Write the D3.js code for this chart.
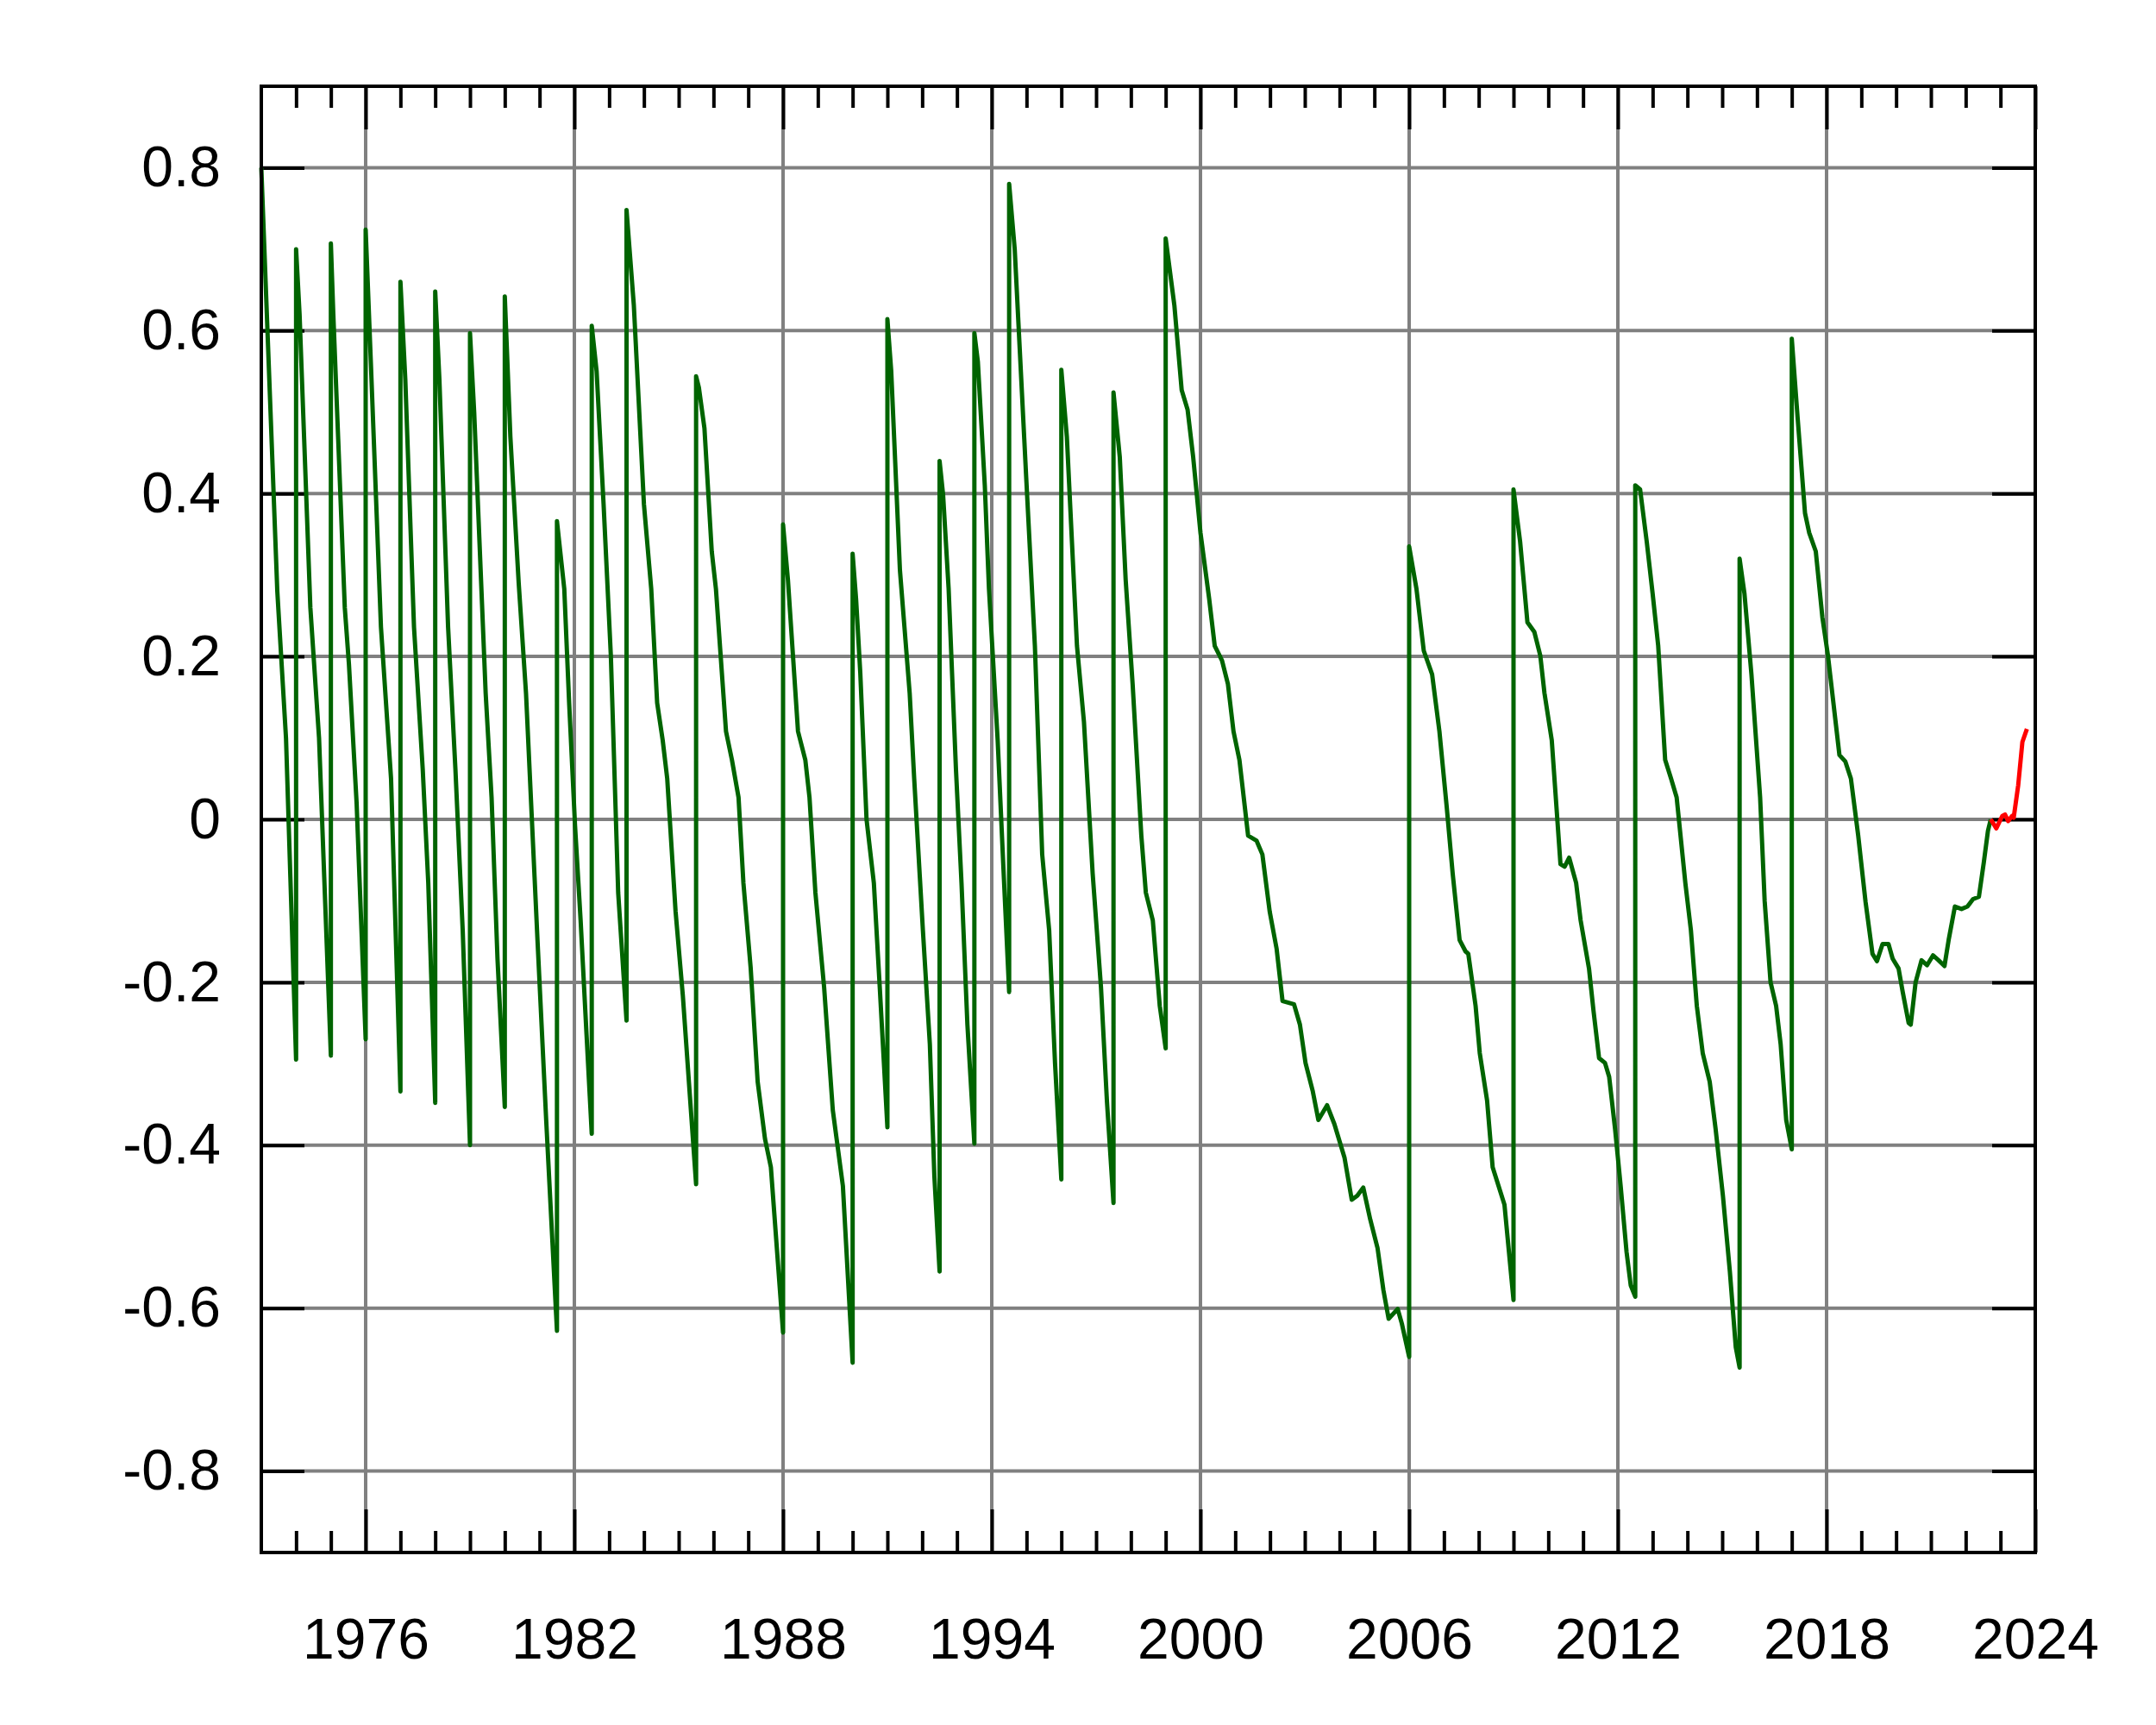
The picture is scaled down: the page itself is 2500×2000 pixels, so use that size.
<!DOCTYPE html>
<html><head><meta charset="utf-8">
<script src="https://cdn.jsdelivr.net/npm/d3@7"></script>
<style>body{margin:0;background:#fff}</style>
</head><body>
<svg id="chart" width="2500" height="2000"></svg>
<script>
// ---------- data ----------
const xMajorTicks = [1976, 1982, 1988, 1994, 2000, 2006, 2012, 2018, 2024];
const xTickLabels = ["1976", "1982", "1988", "1994", "2000", "2006", "2012", "2018", "2024"];
const yTicks = [-0.8, -0.6, -0.4, -0.2, 0, 0.2, 0.4, 0.6, 0.8];
const yTickLabels = ["-0.8", "-0.6", "-0.4", "-0.2", "0", "0.2", "0.4", "0.6", "0.8"];

// UT1-UTC (s), observed; duplicated years mark leap-second jumps
const observed = [
  [1973.00,0.80],[1973.46,0.28],[1973.71,0.10],[1974.00,-0.295],
  [1974.00,0.70],[1974.10,0.62],[1974.41,0.26],[1974.66,0.10],[1975.00,-0.29],
  [1975.00,0.707],[1975.07,0.62],[1975.40,0.26],[1975.52,0.19],[1975.74,0.02],[1976.00,-0.27],
  [1976.00,0.724],[1976.15,0.56],[1976.44,0.236],[1976.73,0.05],[1977.00,-0.334],
  [1977.00,0.66],[1977.14,0.54],[1977.39,0.236],[1977.64,0.062],[1977.80,-0.078],[1978.00,-0.348],
  [1978.00,0.648],[1978.12,0.54],[1978.37,0.236],[1978.58,0.062],[1978.79,-0.136],[1979.00,-0.40],
  [1979.00,0.597],[1979.12,0.50],[1979.45,0.155],[1979.62,0.027],[1979.79,-0.171],[1980.00,-0.353],
  [1980.00,0.642],[1980.16,0.47],[1980.40,0.29],[1980.61,0.155],[1980.94,-0.148],[1981.19,-0.369],[1981.50,-0.628],
  [1981.50,0.366],[1981.71,0.283],[1981.85,0.143],[1982.02,-0.008],[1982.18,-0.124],[1982.35,-0.264],[1982.50,-0.386],
  [1982.50,0.606],[1982.64,0.55],[1982.84,0.387],[1983.05,0.20],[1983.26,-0.09],[1983.50,-0.247],
  [1983.50,0.748],[1983.71,0.631],[1984.00,0.387],[1984.21,0.283],[1984.38,0.143],[1984.54,0.097],[1984.67,0.05],
  [1984.91,-0.113],[1985.12,-0.217],[1985.50,-0.448],
  [1985.50,0.544],[1985.58,0.53],[1985.74,0.48],[1985.95,0.329],[1986.07,0.283],[1986.36,0.108],[1986.53,0.073],
  [1986.72,0.027],[1986.86,-0.078],[1987.07,-0.183],[1987.27,-0.322],[1987.48,-0.392],[1987.65,-0.427],[1988.00,-0.63],
  [1988.00,0.362],[1988.14,0.294],[1988.43,0.108],[1988.64,0.073],[1988.76,0.027],[1988.93,-0.09],[1989.18,-0.206],
  [1989.43,-0.357],[1989.72,-0.45],[1990.00,-0.667],
  [1990.00,0.326],[1990.10,0.27],[1990.22,0.18],[1990.40,0.00],[1990.61,-0.078],[1990.78,-0.206],[1991.00,-0.378],
  [1991.00,0.614],[1991.11,0.55],[1991.36,0.306],[1991.49,0.236],[1991.64,0.155],[1991.77,0.05],[1992.02,-0.136],
  [1992.22,-0.276],[1992.35,-0.438],[1992.50,-0.555],
  [1992.50,0.44],[1992.60,0.399],[1992.76,0.283],[1992.97,0.062],[1993.13,-0.078],[1993.30,-0.252],[1993.50,-0.398],
  [1993.50,0.597],[1993.60,0.562],[1993.80,0.41],[1993.92,0.283],[1994.17,0.097],[1994.33,-0.055],[1994.50,-0.212],
  [1994.50,0.78],[1994.66,0.70],[1994.99,0.42],[1995.24,0.213],[1995.45,-0.043],[1995.65,-0.136],[1995.82,-0.30],[1996.00,-0.442],
  [1996.00,0.552],[1996.16,0.469],[1996.45,0.213],[1996.65,0.12],[1996.90,-0.066],[1997.14,-0.206],[1997.31,-0.345],[1997.50,-0.471],
  [1997.50,0.524],[1997.68,0.445],[1997.85,0.294],[1998.05,0.166],[1998.30,-0.02],[1998.43,-0.09],[1998.63,-0.124],
  [1998.83,-0.229],[1999.00,-0.281],
  [1999.00,0.713],[1999.25,0.631],[1999.46,0.527],[1999.63,0.503],[1999.79,0.445],[2000.00,0.352],[2000.25,0.271],
  [2000.41,0.213],[2000.62,0.195],[2000.79,0.166],[2000.95,0.108],[2001.12,0.073],[2001.37,-0.02],[2001.61,-0.026],
  [2001.78,-0.043],[2001.99,-0.113],[2002.19,-0.159],[2002.36,-0.223],[2002.69,-0.227],[2002.86,-0.252],[2003.02,-0.299],
  [2003.23,-0.334],[2003.39,-0.369],[2003.64,-0.351],[2003.85,-0.374],[2004.14,-0.415],[2004.35,-0.467],[2004.51,-0.462],
  [2004.68,-0.452],[2004.88,-0.491],[2005.09,-0.526],[2005.26,-0.578],[2005.41,-0.613],[2005.67,-0.601],[2005.79,-0.619],
  [2006.00,-0.66],
  [2006.00,0.335],[2006.21,0.283],[2006.42,0.207],[2006.66,0.178],[2006.87,0.108],[2007.08,0.015],[2007.25,-0.066],
  [2007.45,-0.148],[2007.62,-0.162],[2007.70,-0.165],[2007.91,-0.229],[2008.03,-0.287],[2008.24,-0.345],[2008.40,-0.427],
  [2008.57,-0.45],[2008.74,-0.473],[2009.00,-0.59],
  [2009.00,0.405],[2009.19,0.341],[2009.40,0.242],[2009.60,0.23],[2009.77,0.201],[2009.89,0.155],[2010.10,0.097],
  [2010.35,-0.055],[2010.47,-0.058],[2010.60,-0.047],[2010.80,-0.078],[2010.93,-0.124],[2011.17,-0.183],[2011.30,-0.235],
  [2011.46,-0.293],[2011.63,-0.299],[2011.75,-0.316],[2011.92,-0.38],[2012.08,-0.45],[2012.25,-0.531],[2012.37,-0.572],
  [2012.50,-0.586],
  [2012.50,0.41],[2012.64,0.405],[2012.83,0.341],[2013.00,0.277],[2013.16,0.213],[2013.36,0.073],[2013.53,0.05],
  [2013.69,0.027],[2013.94,-0.078],[2014.10,-0.136],[2014.27,-0.229],[2014.44,-0.287],[2014.64,-0.322],[2014.81,-0.38],
  [2015.02,-0.462],[2015.22,-0.555],[2015.39,-0.648],[2015.50,-0.673],
  [2015.50,0.32],[2015.64,0.277],[2015.84,0.178],[2016.09,0.027],[2016.22,-0.10],[2016.39,-0.20],[2016.55,-0.229],
  [2016.68,-0.276],[2016.84,-0.369],[2017.00,-0.405],
  [2017.00,0.59],[2017.17,0.492],[2017.38,0.376],[2017.50,0.352],[2017.69,0.329],[2017.88,0.248],[2018.04,0.201],
  [2018.37,0.079],[2018.54,0.071],[2018.70,0.05],[2018.91,-0.02],[2019.12,-0.101],[2019.32,-0.165],[2019.45,-0.174],
  [2019.61,-0.153],[2019.78,-0.153],[2019.90,-0.171],[2020.07,-0.183],[2020.19,-0.212],[2020.36,-0.25],[2020.42,-0.252],
  [2020.56,-0.20],[2020.73,-0.173],[2020.89,-0.179],[2021.06,-0.167],[2021.22,-0.173],[2021.39,-0.18],[2021.51,-0.148],
  [2021.69,-0.107],[2021.88,-0.11],[2022.05,-0.107],[2022.21,-0.098],[2022.38,-0.095],[2022.52,-0.053],[2022.64,-0.014],
  [2022.72,0.0]
];

// predicted continuation (red)
const predicted = [
  [2022.72,0.0],[2022.88,-0.011],[2023.05,0.004],[2023.13,0.006],[2023.22,-0.002],[2023.33,0.004],[2023.38,0.002],
  [2023.51,0.042],[2023.63,0.095],[2023.76,0.111]
];

// ---------- layout ----------
const L = 303, R = 2360, T = 100, B = 1800;
const FONT = "'Liberation Sans', Arial, Helvetica, sans-serif";
const svg = d3.select("#chart");
svg.append("rect").attr("width", 2500).attr("height", 2000).attr("fill", "#fff");

const x = d3.scaleLinear().domain([1973, 2024]).range([L, R]);
const y = d3.scaleLinear().domain([-0.9, 0.9]).range([B, T]);

// grid
const grid = svg.append("g").attr("stroke", "#808080").attr("stroke-width", 4);
grid.selectAll("line.v").data(xMajorTicks).join("line")
  .attr("x1", d => x(d)).attr("x2", d => x(d)).attr("y1", T).attr("y2", B);
grid.selectAll("line.h").data(yTicks).join("line")
  .attr("y1", d => y(d)).attr("y2", d => y(d)).attr("x1", L).attr("x2", R);

const xMinor = d3.range(1974, 2024).filter(v => !xMajorTicks.includes(v));

function styleAxis(g) {
  g.select(".domain").remove();
  g.selectAll(".tick line").attr("stroke", "#000").attr("stroke-width", 4);
  g.selectAll(".tick text").attr("fill", "#000");
  g.attr("font-size", 66).attr("font-family", FONT);
}

// bottom axis (major with labels)
svg.append("g").attr("transform", `translate(0,${B})`)
  .call(d3.axisBottom(x).tickValues(xMajorTicks).tickSize(-50).tickPadding(76)
    .tickFormat((d, i) => xTickLabels[i]))
  .call(styleAxis);
svg.append("g").attr("transform", `translate(0,${B})`)
  .call(d3.axisBottom(x).tickValues(xMinor).tickSize(-25).tickFormat(""))
  .call(styleAxis);
// top axis
svg.append("g").attr("transform", `translate(0,${T})`)
  .call(d3.axisTop(x).tickValues(xMajorTicks).tickSize(-50).tickFormat(""))
  .call(styleAxis);
svg.append("g").attr("transform", `translate(0,${T})`)
  .call(d3.axisTop(x).tickValues(xMinor).tickSize(-25).tickFormat(""))
  .call(styleAxis);
// left axis
svg.append("g").attr("transform", `translate(${L},0)`)
  .call(d3.axisLeft(y).tickValues(yTicks).tickSize(-50).tickPadding(47)
    .tickFormat((d, i) => yTickLabels[i]))
  .call(styleAxis);
// right axis
svg.append("g").attr("transform", `translate(${R},0)`)
  .call(d3.axisRight(y).tickValues(yTicks).tickSize(-50).tickFormat(""))
  .call(styleAxis);

// lines
const line = d3.line().x(d => x(d[0])).y(d => y(d[1]));
svg.append("path").datum(observed).attr("d", line)
  .attr("fill", "none").attr("stroke", "#006400").attr("stroke-width", 5)
  .attr("stroke-linejoin", "round");
svg.append("path").datum(predicted).attr("d", line)
  .attr("fill", "none").attr("stroke", "#ff0000").attr("stroke-width", 5)
  .attr("stroke-linejoin", "round");

// border
svg.append("rect").attr("x", L).attr("y", T).attr("width", R - L).attr("height", B - T)
  .attr("fill", "none").attr("stroke", "#000").attr("stroke-width", 4);
</script>
</body></html>
